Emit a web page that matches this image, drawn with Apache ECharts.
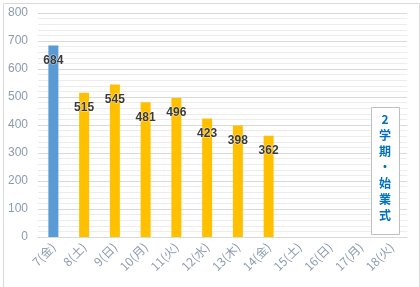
<!DOCTYPE html>
<html><head><meta charset="utf-8">
<script src="https://cdn.jsdelivr.net/npm/echarts@6/dist/echarts.min.js"></script>
<style>html,body{margin:0;padding:0;background:#fff}#c{width:420px;height:287px}</style>
</head><body><div id="c"></div>
<script>
var categories = ['7(金)','8(土)','9(日)','10(月)','11(火)','12(水)','13(木)','14(金)','15(土)','16(日)','17(月)','18(火)'];
var values = [684, 515, 545, 481, 496, 423, 398, 362, null, null, null, null];
var yTicks = [0, 100, 200, 300, 400, 500, 600, 700, 800];
var noteText = ['2','学','期','・','始','業','式'];

var chart = echarts.init(document.getElementById('c'), null, {renderer:'canvas'});
var font = '"Noto Sans CJK JP", "Noto Sans", sans-serif';
chart.setOption({
  animation: false,
  grid: {left: 38, right: 13, top: 13, bottom: 50},
  xAxis: {
    type: 'category', data: categories,
    axisLine: {lineStyle: {color: '#d9d9d9'}},
    axisTick: {show: false},
    axisLabel: {rotate: 45, color: '#8c9bb0', fontSize: 12, fontFamily: font, margin: 8, interval: 0}
  },
  yAxis: {
    type: 'value', min: yTicks[0], max: yTicks[yTicks.length-1], interval: 100,
    axisLine: {show: false}, axisTick: {show: false},
    axisLabel: {color: '#8c9bb0', fontSize: 12, fontFamily: 'Liberation Sans, Arial, sans-serif', margin: 10},
    splitLine: {lineStyle: {color: '#d9d9d9', width: 1}},
    minorTick: {show: false, splitNumber: 5},
    minorSplitLine: {show: true, lineStyle: {color: '#ececec', width: 1}}
  },
  series: [{
    type: 'bar', data: values, barWidth: 10,
    itemStyle: {color: function(p){ return p.dataIndex === 0 ? '#5b9bd5' : '#ffc000'; }},
    label: {show: true, position: 'insideTop', distance: 9, color: '#3a3a3a', fontWeight: 'bold', fontSize: 12,
      fontFamily: 'Liberation Sans, Arial, sans-serif', textBorderColor: 'rgba(255,255,255,0.6)', textBorderWidth: 1}
  }],
  graphic: [
    {type: 'rect', left: 1, top: 1, shape: {width: 416, height: 284}, style: {fill: 'none', stroke: '#d9d9d9', lineWidth: 1}, silent: true},
    {type: 'rect', left: 371, top: 107, shape: {width: 28, height: 127}, style: {fill: '#fff', stroke: '#bfbfbf', lineWidth: 1}, z: 10},
    {type: 'text', left: 379, top: 111, z: 11,
      style: {text: noteText.join('\n'), fill: '#0070c0', font: 'bold 12px ' + font, lineHeight: 16, textAlign: 'center'}}
  ]
});
</script></body></html>
